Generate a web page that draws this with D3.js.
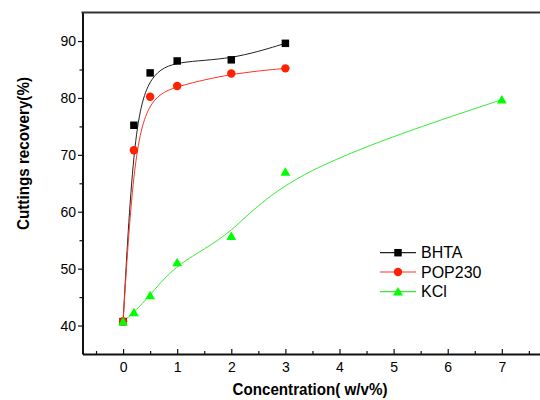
<!DOCTYPE html>
<html>
<head>
<meta charset="utf-8">
<script src="https://cdn.jsdelivr.net/npm/d3@7"></script>
<style>
  html, body { margin: 0; padding: 0; background: #fff; }
  svg { display: block; }
  text { font-family: Arial, "Liberation Sans", sans-serif; fill: #000; }
</style>
</head>
<body>
<svg id="chart" width="540" height="400"></svg>
<script>
// ---- data ----
const concentrations = [0, 0.2, 0.5, 1, 2, 3];
const bhta = [40.7, 75.2, 84.4, 86.5, 86.7, 89.6];
const pop230 = [40.7, 70.8, 80.2, 82.1, 84.3, 85.2];
const kclConcentrations = [0, 0.2, 0.5, 1, 2, 3, 7];
const kcl = [40.7, 42.3, 45.3, 51.1, 55.7, 67.0, 79.7];
const seriesNames = ["BHTA", "POP230", "KCl"];
const xTickValues = [0, 1, 2, 3, 4, 5, 6, 7];
const xMinorTickValues = [-0.5, 0.5, 1.5, 2.5, 3.5, 4.5, 5.5, 6.5, 7.5];
const yTickValues = [40, 50, 60, 70, 80, 90];
const yMinorTickValues = [45, 55, 65, 75, 85];
const xTitle = "Concentration( w/v%)";
const yTitle = "Cuttings recovery(%)";

// ---- layout ----
const svg = d3.select("#chart");
const mLeft = 82.5, mRight = 542.4, mTop = 12.6, mBottom = 354;
const x = d3.scaleLinear().domain([-0.75, 7.75]).range([mLeft, mRight]);
const y = d3.scaleLinear().domain([35, 95]).range([mBottom, mTop]);

const series = [
  { name: seriesNames[0], xs: concentrations, ys: bhta, line: "#222", fill: "#000", shape: d3.symbolSquare, size: 56 },
  { name: seriesNames[1], xs: concentrations, ys: pop230, line: "#ff3322", fill: "#ff2200", shape: d3.symbolCircle, size: 56 },
  { name: seriesNames[2], xs: kclConcentrations, ys: kcl, line: "#33ee33", fill: "#00ff00", shape: d3.symbolTriangle, size: 42 }
];

// ---- lines & markers ----
const lineGen = d3.line().x(d => x(d[0])).y(d => y(d[1])).curve(d3.curveBasis);
series.forEach(s => {
  const pts = s.xs.map((v, i) => [v, s.ys[i]]);
  svg.append("path")
    .attr("d", lineGen(pts))
    .attr("fill", "none")
    .attr("stroke", s.line)
    .attr("stroke-width", 1);
});
series.forEach(s => {
  const pts = s.xs.map((v, i) => [v, s.ys[i]]);
  svg.append("g").selectAll("path").data(pts).join("path")
    .attr("d", d3.symbol().type(s.shape).size(s.size))
    .attr("transform", d => `translate(${x(d[0])},${y(d[1]) + (s.shape === d3.symbolTriangle ? 1 : 0)})`)
    .attr("fill", s.fill);
});

// ---- axes ----
const xAxis = svg.append("g").attr("transform", `translate(0,${mBottom})`)
  .call(d3.axisBottom(x).tickValues(xTickValues).tickSizeInner(-5).tickSizeOuter(0).tickPadding(8.5).tickFormat(d3.format("d")));
const xMinor = svg.append("g").attr("transform", `translate(0,${mBottom})`)
  .call(d3.axisBottom(x).tickValues(xMinorTickValues).tickSizeInner(-3).tickSizeOuter(0).tickFormat(""));
const yAxis = svg.append("g").attr("transform", `translate(${mLeft},0)`)
  .call(d3.axisLeft(y).tickValues(yTickValues).tickSizeInner(4.5).tickSizeOuter(0).tickPadding(2).tickFormat(d3.format("d")));
const yMinor = svg.append("g").attr("transform", `translate(${mLeft},0)`)
  .call(d3.axisLeft(y).tickValues(yMinorTickValues).tickSizeInner(3).tickSizeOuter(0).tickFormat(""));

[xAxis, xMinor, yAxis, yMinor].forEach(g => {
  g.select(".domain").attr("stroke", "#111").attr("stroke-width", 2);
  g.selectAll(".tick line").attr("stroke", "#111").attr("stroke-width", 1.2);
  g.selectAll("text").attr("font-size", 14).attr("font-family", "Arial, 'Liberation Sans', sans-serif").attr("fill", "#000");
});
xMinor.select(".domain").remove();
yMinor.select(".domain").remove();

// top frame line
svg.append("line")
  .attr("x1", mLeft - 1).attr("x2", 540).attr("y1", mTop).attr("y2", mTop)
  .attr("stroke", "#333").attr("stroke-width", 2);

// ---- titles ----
svg.append("text")
  .attr("x", 310).attr("y", 395.3)
  .attr("text-anchor", "middle")
  .attr("font-size", 17).attr("font-weight", "bold")
  .attr("textLength", 155).attr("lengthAdjust", "spacingAndGlyphs")
  .text(xTitle);
svg.append("text")
  .attr("transform", "translate(28.5,153.5) rotate(-90)")
  .attr("text-anchor", "middle")
  .attr("font-size", 17).attr("font-weight", "bold")
  .attr("textLength", 153).attr("lengthAdjust", "spacingAndGlyphs")
  .text(yTitle);

// ---- legend ----
const legendY = [252.7, 272, 291.7];
series.forEach((s, i) => {
  const g = svg.append("g").attr("transform", `translate(0,${legendY[i]})`);
  g.append("line").attr("x1", 380).attr("x2", 416).attr("y1", 0).attr("y2", 0)
    .attr("stroke", s.line).attr("stroke-width", 1.2);
  g.append("path").attr("d", d3.symbol().type(s.shape).size(s.size))
    .attr("transform", `translate(398,${s.shape === d3.symbolTriangle ? 1 : 0})`).attr("fill", s.fill);
  g.append("text").attr("x", 421).attr("y", 5.6)
    .attr("font-size", 16).text(s.name);
});
</script>
</body>
</html>
